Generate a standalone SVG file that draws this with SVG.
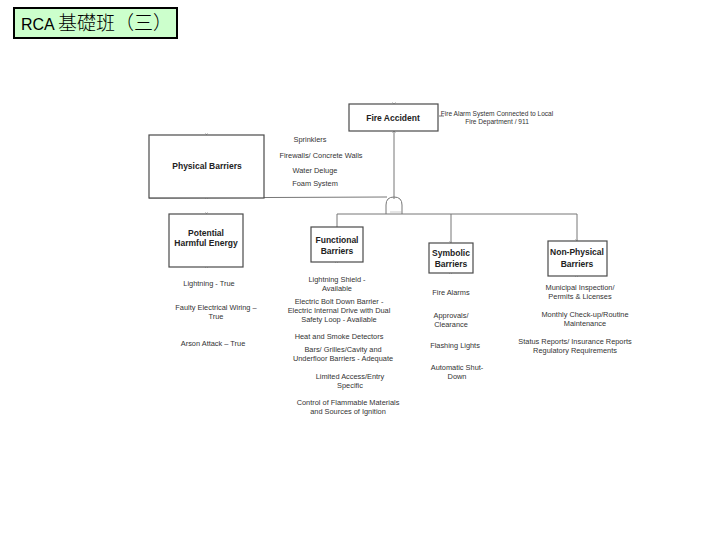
<svg xmlns="http://www.w3.org/2000/svg" width="720" height="540" viewBox="0 0 720 540">
<defs>
<style>
.box{fill:#ffffff;stroke:#4a4a4a;stroke-width:1.2}
.lbl{font-family:"Liberation Sans",Arial,sans-serif;font-weight:bold;font-size:8.5px;fill:#222;text-anchor:middle}
.it{font-family:"Liberation Sans",Arial,sans-serif;font-size:7.4px;fill:#333;text-anchor:middle}
.ln{fill:none;stroke:#777;stroke-width:1}
.mk{fill:none;stroke:#aaa;stroke-width:0.6}
</style>
</defs>
<rect width="720" height="540" fill="#ffffff"/>
<g id="title">
<rect x="14" y="8" width="163" height="30" fill="#ccffcc" stroke="#000" stroke-width="2"/>
<text x="21" y="30" fill="#000"><tspan font-family="Liberation Sans,Arial,sans-serif" font-size="16">RCA</tspan><tspan x="58" font-family="'Noto Sans CJK TC','Noto Sans CJK SC',sans-serif" font-size="19" font-weight="300">基礎班（三）</tspan></text>
</g>
<g id="connectors">
<line class="ln" x1="394" y1="131" x2="394" y2="199"/>
<line class="ln" x1="149" y1="198" x2="387" y2="197"/>
<path class="ln" d="M386 214 V205 Q386 197 394 197 Q402 197 402 205 V214"/>
<path class="ln" d="M337 227 V214 H577 V241"/>
<line class="ln" x1="451" y1="214" x2="451" y2="243"/>
<line class="ln" x1="439" y1="116" x2="444" y2="116"/>
</g>
<g id="markers">
<path class="mk" d="M392 102 l4 4 M396 102 l-4 4 M392 129 l4 4 M396 129 l-4 4 M205 133 l3 3 M208 133 l-3 3 M205 196 l3 3 M208 196 l-3 3 M205 212 l3 3 M208 212 l-3 3 M205 265 l3 3 M208 265 l-3 3 M335 260 l3 3 M338 260 l-3 3 M449 241 l3 3 M452 241 l-3 3 M449 271 l3 3 M452 271 l-3 3 M575 239 l3 3 M578 239 l-3 3 M575 274 l3 3 M578 274 l-3 3 M390 212 h12"/>
</g>
<g id="fire-accident">
<rect class="box" x="349" y="104" width="89" height="27"/>
<text class="lbl" x="393" y="121">Fire Accident</text>
<text class="it" x="497" y="116" style="font-size:6.6px">Fire Alarm System Connected to Local</text>
<text class="it" x="497" y="124" style="font-size:6.6px">Fire Department / 911</text>
</g>
<g id="physical-barriers">
<rect class="box" x="149" y="135" width="115" height="63"/>
<text class="lbl" x="207" y="169">Physical Barriers</text>
<text class="it" x="310" y="142">Sprinklers</text>
<text class="it" x="321" y="158">Firewalls/ Concrete Walls</text>
<text class="it" x="315" y="173">Water Deluge</text>
<text class="it" x="315" y="186">Foam System</text>
</g>
<g id="potential-harmful-energy">
<rect class="box" x="169" y="214" width="74" height="53"/>
<text class="lbl" x="206" y="236">Potential</text>
<text class="lbl" x="206" y="246">Harmful Energy</text>
<text class="it" x="209" y="286">Lightning -  True</text>
<text class="it" x="216" y="310">Faulty Electrical Wiring –</text>
<text class="it" x="216" y="319">True</text>
<text class="it" x="213" y="346">Arson Attack – True</text>
</g>
<g id="functional-barriers">
<rect class="box" x="311" y="227" width="52" height="35"/>
<text class="lbl" x="337" y="243">Functional</text>
<text class="lbl" x="337" y="254">Barriers</text>
<text class="it" x="337" y="282">Lightning Shield -</text>
<text class="it" x="337" y="291">Available</text>
<text class="it" x="339" y="304">Electric Bolt Down Barrier -</text>
<text class="it" x="339" y="313">Electric Internal Drive with Dual</text>
<text class="it" x="339" y="322">Safety Loop - Available</text>
<text class="it" x="339" y="339">Heat and Smoke Detectors</text>
<text class="it" x="343" y="352">Bars/ Grilles/Cavity and</text>
<text class="it" x="343" y="361">Underfloor Barriers - Adequate</text>
<text class="it" x="350" y="379">Limited Access/Entry</text>
<text class="it" x="350" y="388">Specific</text>
<text class="it" x="348" y="405">Control of Flammable Materials</text>
<text class="it" x="348" y="414">and Sources of Ignition</text>
</g>
<g id="symbolic-barriers">
<rect class="box" x="429" y="243" width="44" height="30"/>
<text class="lbl" x="451" y="256">Symbolic</text>
<text class="lbl" x="451" y="267">Barriers</text>
<text class="it" x="451" y="295">Fire Alarms</text>
<text class="it" x="451" y="318">Approvals/</text>
<text class="it" x="451" y="327">Clearance</text>
<text class="it" x="455" y="348">Flashing Lights</text>
<text class="it" x="457" y="370">Automatic Shut-</text>
<text class="it" x="457" y="379">Down</text>
</g>
<g id="non-physical-barriers">
<rect class="box" x="548" y="241" width="59" height="35"/>
<text class="lbl" x="577" y="255">Non-Physical</text>
<text class="lbl" x="577" y="267">Barriers</text>
<text class="it" x="580" y="290">Municipal Inspection/</text>
<text class="it" x="580" y="299">Permits &amp; Licenses</text>
<text class="it" x="585" y="317">Monthly Check-up/Routine</text>
<text class="it" x="585" y="326">Maintenance</text>
<text class="it" x="575" y="344">Status Reports/ Insurance Reports</text>
<text class="it" x="575" y="353">Regulatory Requirements</text>
</g>
</svg>
